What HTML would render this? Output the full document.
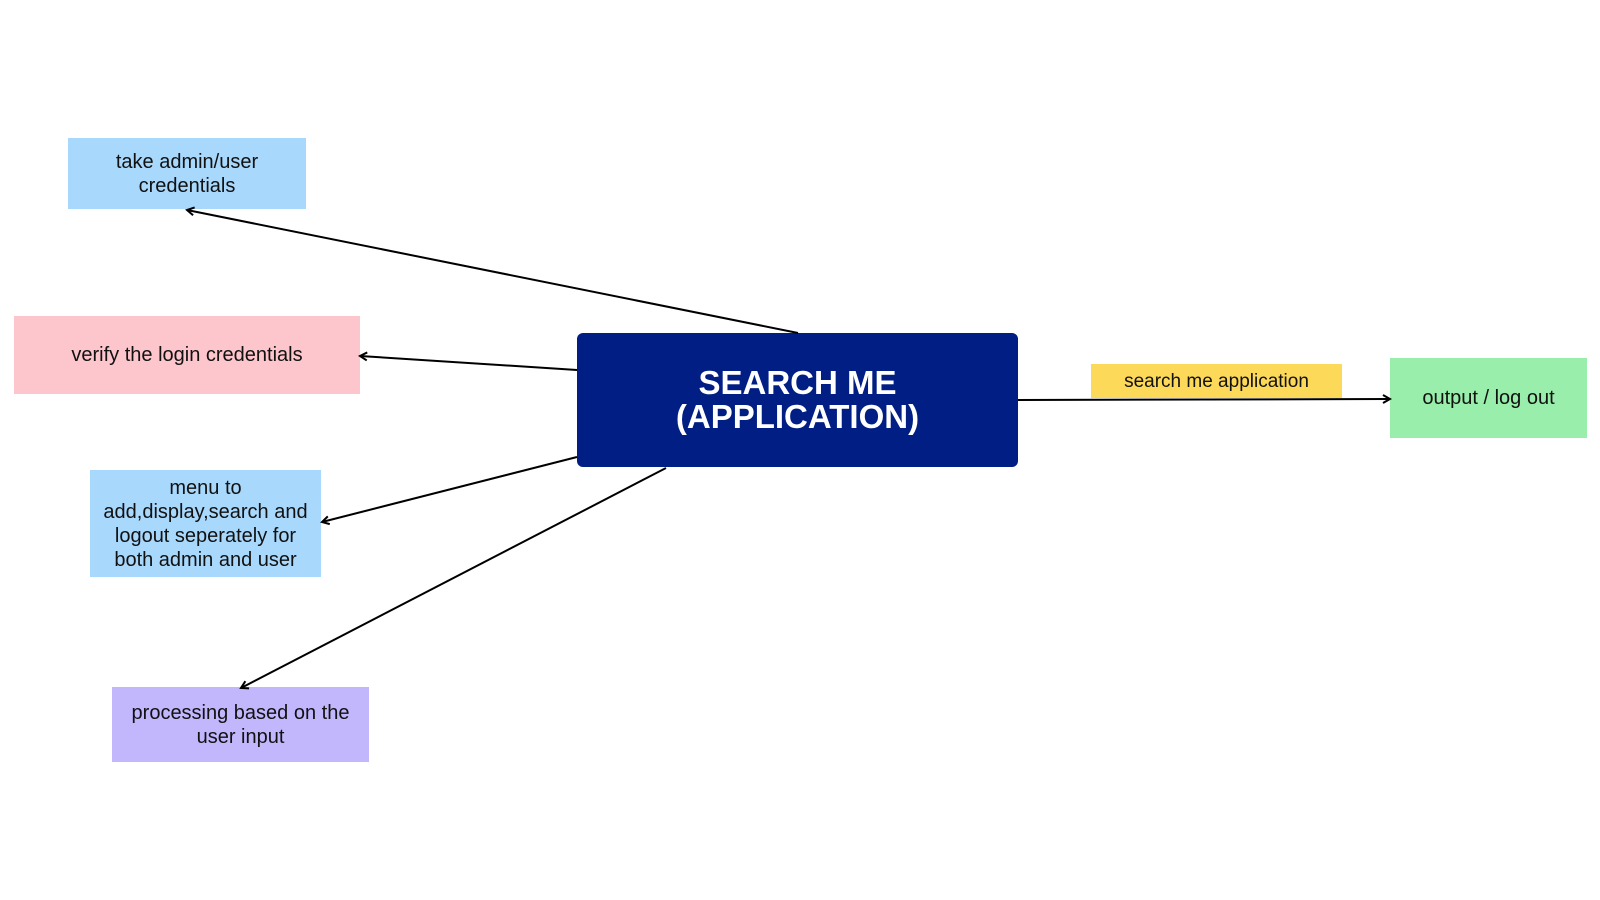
<!DOCTYPE html>
<html><head><meta charset="utf-8"><style>
html,body{margin:0;padding:0;background:#fff;}
body{width:1600px;height:900px;position:relative;overflow:hidden;font-family:"Liberation Sans",sans-serif;}
.b{position:absolute;display:flex;align-items:center;justify-content:center;text-align:center;font-size:20px;line-height:24px;color:#111;box-sizing:border-box;}
svg{position:absolute;left:0;top:0;}
</style></head><body>
<div class="b" style="left:68px;top:138px;width:238px;height:71px;background:#a9d8fd;">take admin/user<br>credentials</div>
<div class="b" style="left:14px;top:316px;width:346px;height:78px;background:#fdc5cc;">verify the login credentials</div>
<div class="b" style="left:90px;top:470px;width:231px;height:107px;background:#a9d8fd;">menu to<br>add,display,search and<br>logout seperately for<br>both admin and user</div>
<div class="b" style="left:112px;top:687px;width:257px;height:75px;background:#c2b6fc;">processing based on the<br>user input</div>
<div class="b" style="left:1091px;top:364px;width:251px;height:34px;background:#fdd95a;font-size:19px;padding-top:2px;">search me application</div>
<div class="b" style="left:1390px;top:358px;width:197px;height:80px;background:#98eeaa;">output / log out</div>
<div class="b" style="left:577px;top:333px;width:441px;height:134px;background:#001e83;border-radius:6px;color:#fff;font-weight:bold;font-size:33px;line-height:34px;">SEARCH ME<br>(APPLICATION)</div>
<svg width="1600" height="900" viewBox="0 0 1600 900">
<defs><marker id="a" markerWidth="10" markerHeight="10" refX="8" refY="5" orient="auto" markerUnits="userSpaceOnUse"><path d="M1,1 L8,5 L1,9" fill="none" stroke="#000" stroke-width="2"/></marker></defs>
<g stroke="#000" stroke-width="2" fill="none" marker-end="url(#a)">
<line x1="798" y1="333" x2="187" y2="210"/>
<line x1="577" y1="370" x2="360" y2="356"/>
<line x1="577" y1="457" x2="322" y2="522"/>
<line x1="666" y1="468" x2="241" y2="688"/>
<line x1="1018" y1="400" x2="1390" y2="399"/>
</g>
</svg>
</body></html>
